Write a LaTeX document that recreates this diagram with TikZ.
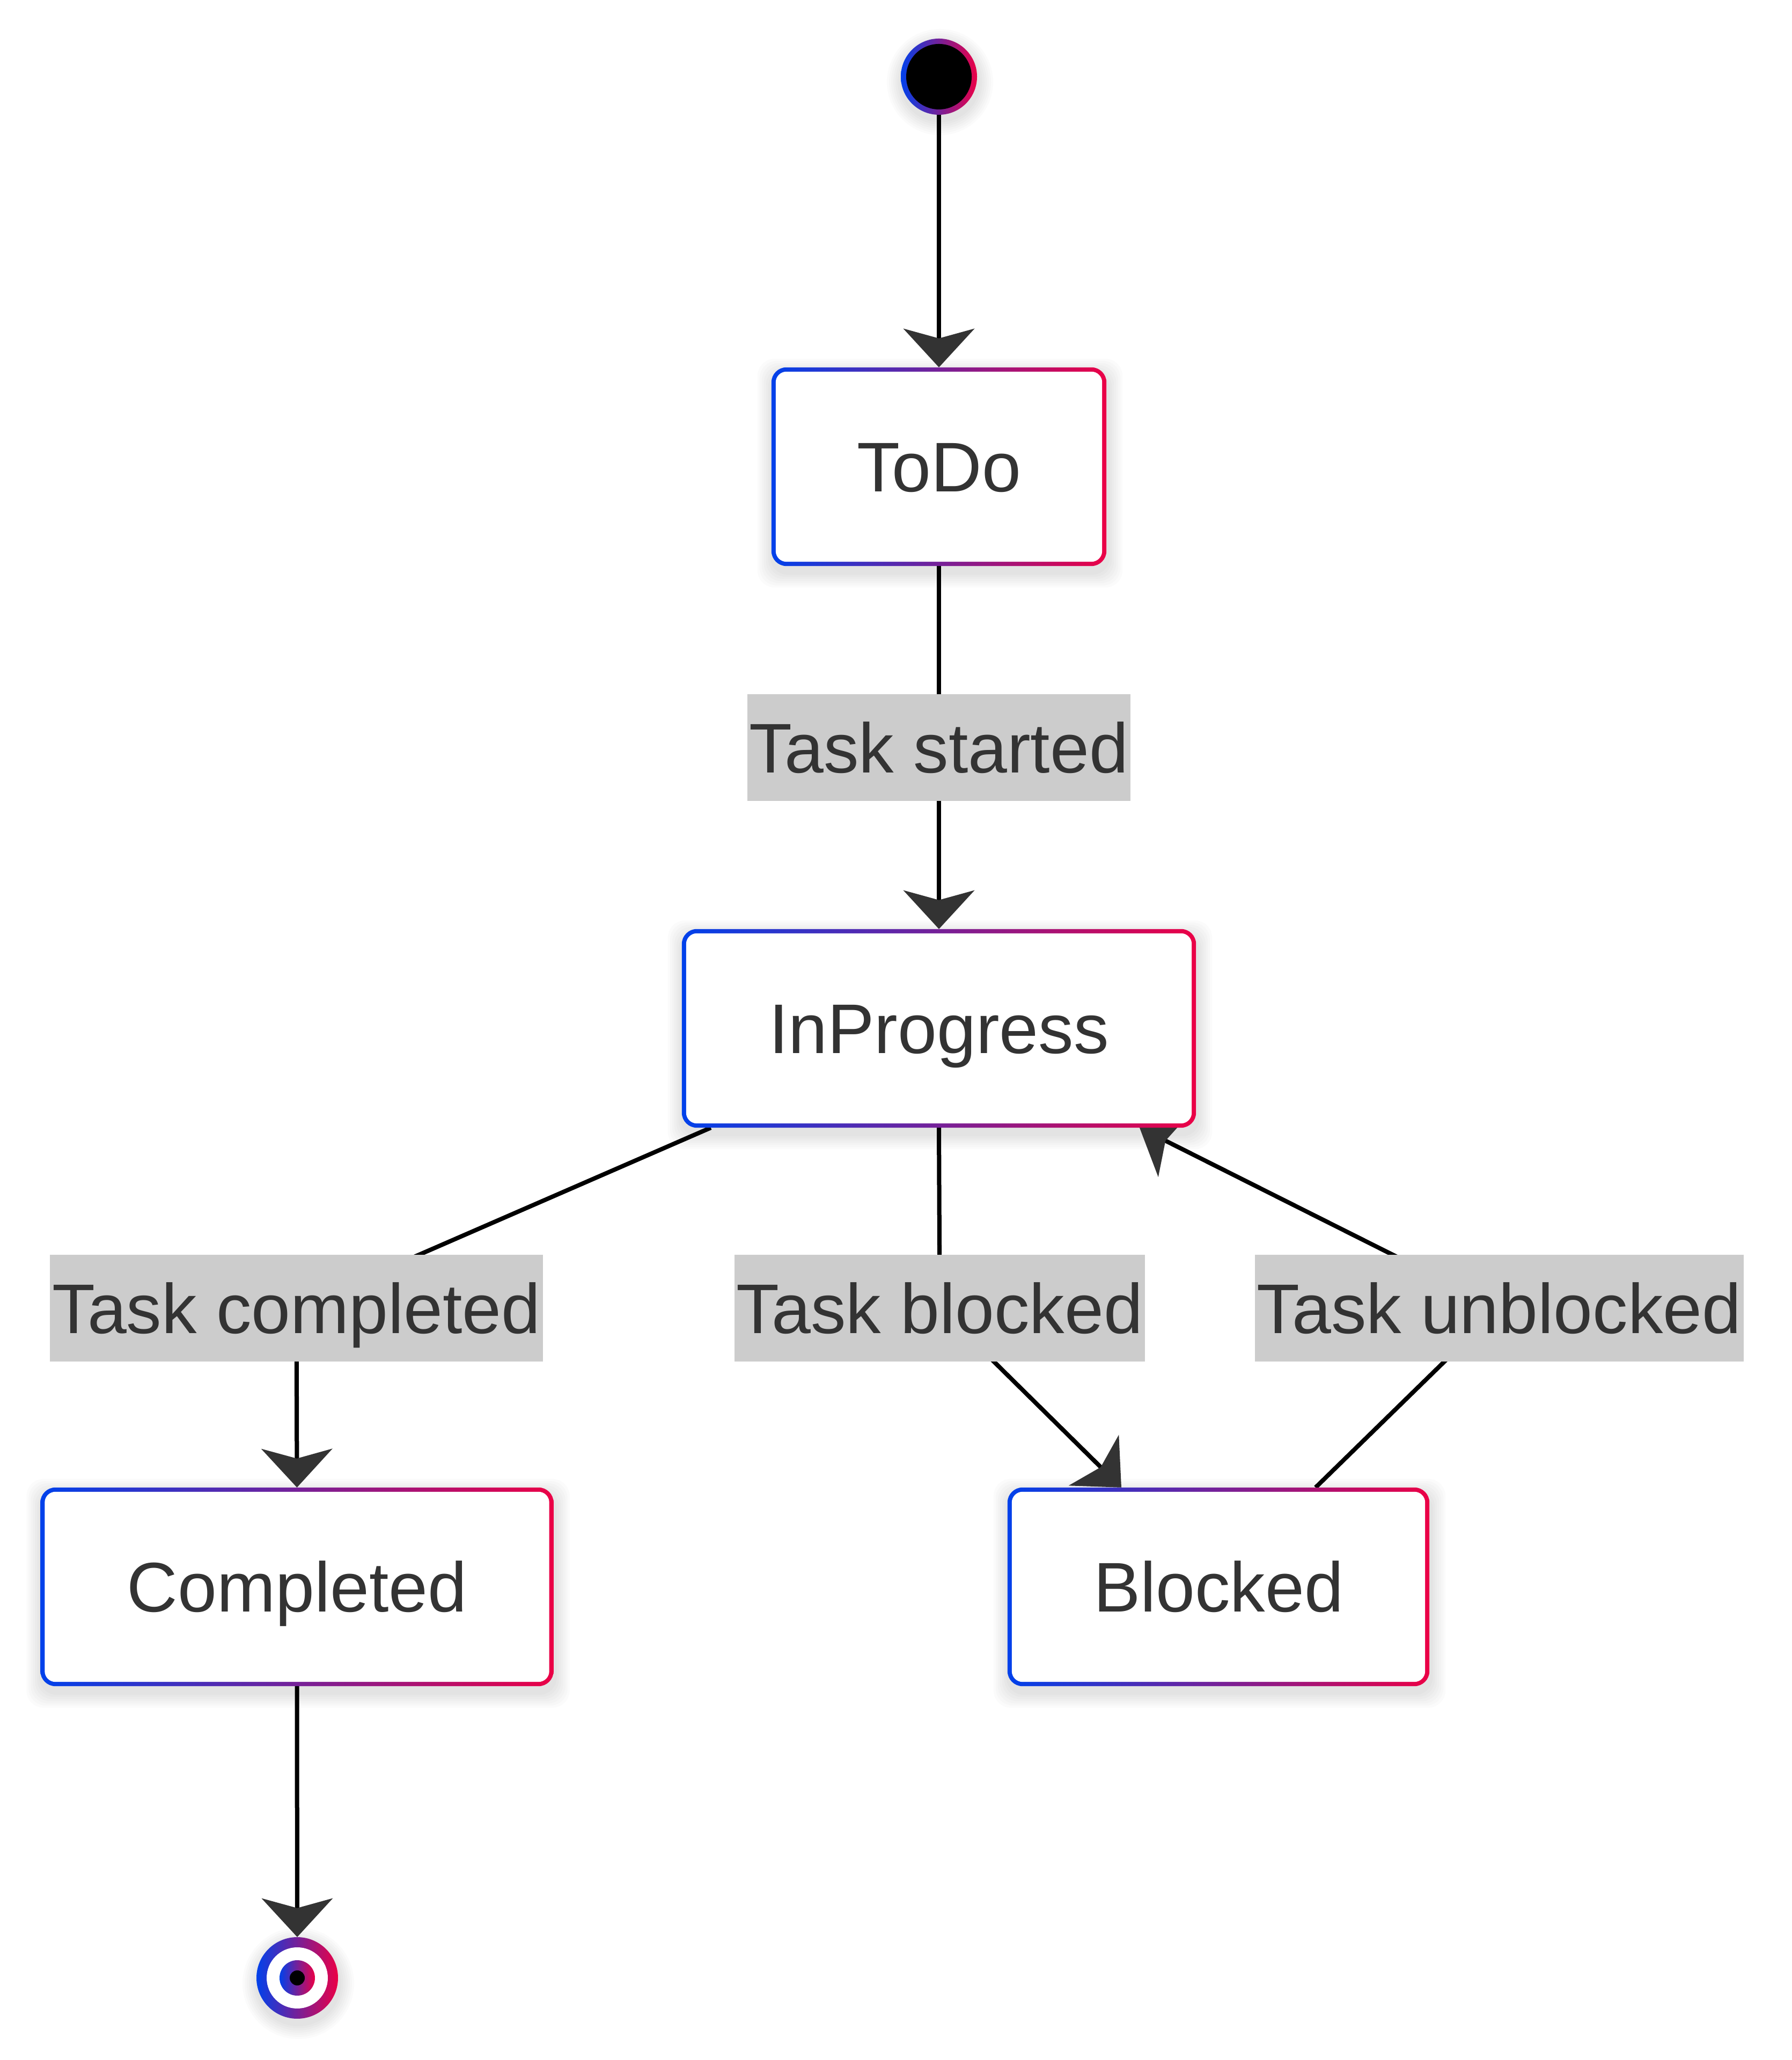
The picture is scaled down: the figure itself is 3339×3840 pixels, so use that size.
\documentclass[tikz,border=0pt]{standalone}
\usepackage{fontspec}
\setmainfont{Liberation Sans}
\usetikzlibrary{arrows.meta,calc}
\definecolor{gblue}{RGB}{0,65,235}
\definecolor{gred}{RGB}{235,0,70}
\definecolor{txt}{HTML}{333333}
\definecolor{lblbg}{HTML}{CCCCCC}
\pgfdeclarelayer{shadow}
\pgfdeclarelayer{edges}
\pgfdeclarelayer{boxes}
\pgfsetlayers{shadow,edges,boxes,main}

\newcommand\boxdeco[1]{%
  \begin{pgfonlayer}{shadow}
    \foreach \i in {1,...,7}{
      \fill[black,opacity=0.016,rounded corners=32pt]
        ([shift={({2-\i*4},{-12-\i*4})}]#1.south west) rectangle
        ([shift={({2+\i*4},{-12+\i*4})}]#1.north east);
    }
  \end{pgfonlayer}
  \begin{pgfonlayer}{boxes}
    \shade[left color=gblue,right color=gred,rounded corners=28pt]
      (#1.south west) rectangle (#1.north east);
    \fill[white,rounded corners=20pt]
      ([shift={(8,8)}]#1.south west) rectangle ([shift={(-8,-8)}]#1.north east);
  \end{pgfonlayer}}

\newcommand\circshadow[2]{%
  \begin{pgfonlayer}{shadow}
    \foreach \i in {1,...,7}{
      \fill[black,opacity=0.016] ([shift={(2,-10)}]#1.center) circle ({#2+\i*4});
    }
  \end{pgfonlayer}}

\tikzset{
  stbox/.style={rectangle,inner sep=0pt,minimum height=370pt,text=txt,
    font=\fontsize{131}{157}\selectfont,text height=94pt,text depth=0pt},
  lbl/.style={rectangle,fill=lblbg,inner xsep=4pt,inner ysep=0pt,minimum height=199pt,
    text=txt,font=\fontsize{131}{157}\selectfont,text height=94pt,text depth=0pt},
  arr/.style={line width=8pt,black,
    -{Stealth[length=72pt,width=132pt,inset=18pt,color=txt]}},
  dot/.style={circle,inner sep=0pt,draw=none}
}

\begin{document}
\begin{tikzpicture}[x=1pt,y=1pt]
\begin{pgfonlayer}{shadow}
  \fill[white] (0,0) rectangle (3339,3840);
\end{pgfonlayer}
\useasboundingbox (0,0) rectangle (3339,3840);

% states
\node[dot,minimum size=142pt] (start) at (1750,3697) {};
\node[stbox,minimum width=624pt] (todo) at (1750,2970) {ToDo};
\node[stbox,minimum width=958pt] (inprog) at (1750,1923) {InProgress};
\node[stbox,minimum width=956pt] (completed) at (553.5,882) {Completed};
\node[stbox,minimum width=786pt] (blocked) at (2271,882) {Blocked};
\node[dot,minimum size=152pt] (endc) at (554,153) {};

% labels
\node[lbl] (lstart) at (1750,2446.5) {Task started};
\node[lbl] (lcomp) at (552.5,1401.5) {Task completed};
\node[lbl] (lblk) at (1751.5,1401.5) {Task blocked};
\node[lbl] (lunb) at (2794,1401.5) {Task unblocked};

% decorations
\boxdeco{todo}
\boxdeco{inprog}
\boxdeco{completed}
\boxdeco{blocked}
\circshadow{start}{71}
\circshadow{endc}{76}
\begin{pgfonlayer}{boxes}
  \shade[left color=gblue,right color=gred] (start.center) circle (71);
  \fill[black] (start.center) circle (61);
  \shade[left color=gblue,right color=gred] (endc.center) circle (76);
  \fill[white] (endc.center) circle (57);
  \shade[left color=gblue,right color=gred] (endc.center) circle (33);
  \fill[black] (endc.center) circle (14);
\end{pgfonlayer}

% connectors
\begin{pgfonlayer}{edges}
  \draw[arr] (start.south) -- (todo.north);
  \draw[arr] (todo.south) -- (lstart.center) -- (inprog.north);
  \draw[arr] ($(inprog.south west)+(54,0)$) -- (lcomp.center) -- (completed.north);
  \draw[arr] (inprog.south) -- (lblk.center) -- ($(blocked.north)+(-181,0)$);
  \draw[arr] ($(blocked.north)+(181,0)$) -- (lunb.center) -- ($(inprog.south)+(374,0)$);
  \draw[arr] (completed.south) -- (endc.north);
\end{pgfonlayer}
\end{tikzpicture}
\end{document}
